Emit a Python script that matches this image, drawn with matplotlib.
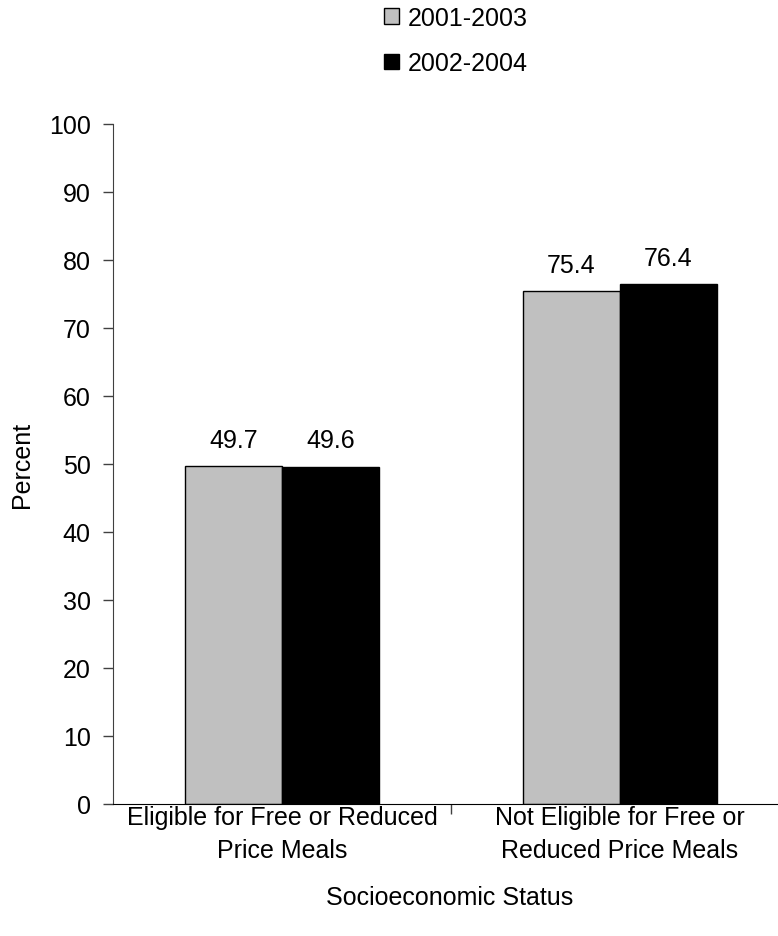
import matplotlib
matplotlib.use("Agg")
import matplotlib.pyplot as plt
import numpy as np

plt.rcParams['font.family'] = ['Liberation Sans', 'DejaVu Sans']

categories = ["Eligible for Free or Reduced\nPrice Meals", "Not Eligible for Free or\nReduced Price Meals"]
series_names = ["2001-2003", "2002-2004"]
values_2001_2003 = [49.7, 75.4]
values_2002_2004 = [49.6, 76.4]
yticks = [0, 10, 20, 30, 40, 50, 60, 70, 80, 90, 100]

W, H = 778, 937
FS = 18
fig = plt.figure(figsize=(W/100, H/100), dpi=100)
left, right, bottom, top = 113, 778, 805, 125
ax = fig.add_axes([left/W, 1 - bottom/H, (right-left)/W, (bottom-top)/H])

cat_w = 338.0
x = np.arange(len(categories)) + 0.5
bw = 97 / cat_w
b1 = ax.bar(x - bw/2, values_2001_2003, bw, color='#c0c0c0', edgecolor='black', linewidth=1.0, label=series_names[0])
b2 = ax.bar(x + bw/2, values_2002_2004, bw, color='black', edgecolor='black', linewidth=1.0, label=series_names[1])

for bars, vals in ((b1, values_2001_2003), (b2, values_2002_2004)):
    for r, v in zip(bars, vals):
        ax.text(r.get_x() + r.get_width()/2, v + 2.1, f"{v:.1f}", ha='center', va='bottom', fontsize=FS)

ax.set_xlim(0, (right-left)/cat_w)
ax.set_ylim(0, 100)
ax.set_yticks(yticks)
ax.set_yticklabels([str(t) for t in yticks], fontsize=FS)
ax.tick_params(axis='y', direction='out', length=7, width=1, pad=9, color='#404040')
ax.set_xticks(x)
ax.set_xticklabels(categories, fontsize=FS, linespacing=1.45)
ax.tick_params(axis='x', length=0, pad=1)
ax.set_xticks([1.0], minor=True)
ax.tick_params(axis='x', which='minor', direction='out', length=7, width=1, color='#404040')

for s in ['top', 'right']:
    ax.spines[s].set_visible(False)
ax.spines['left'].set_color('#404040')
ax.spines['bottom'].set_color('black')

ax.set_ylabel("Percent", fontsize=FS, va='center')
ax.yaxis.set_label_coords(-(left-22)/(right-left), 0.5)
ax.set_xlabel("Socioeconomic Status", fontsize=FS)
ax.xaxis.set_label_coords((450-left)/(right-left), -(898-bottom)/(bottom-top))
ax.xaxis.label.set_va('center')

leg = fig.legend(handles=[b1, b2], labels=series_names, loc='upper left',
                 bbox_to_anchor=(384/W, 1 - 7/H), frameon=False, fontsize=FS,
                 handlelength=0.6, handleheight=0.6, handletextpad=0.35,
                 labelspacing=0.85, borderpad=0, borderaxespad=0)

fig.savefig("out.png", dpi=100)
